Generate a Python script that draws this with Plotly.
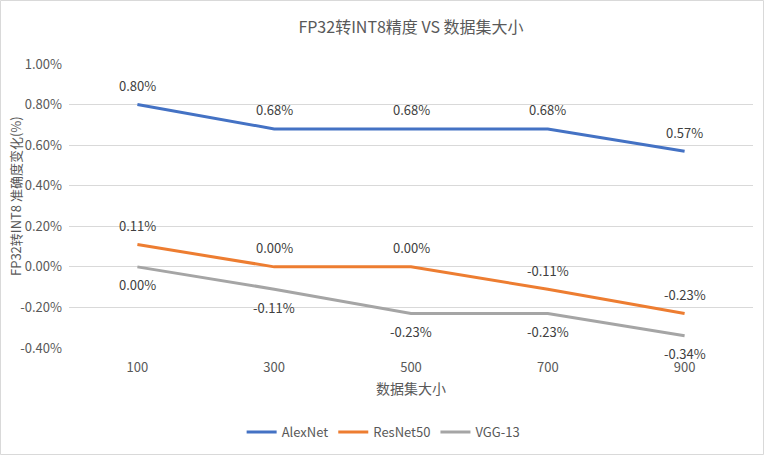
import plotly.graph_objects as go

categories = ["100", "300", "500", "700", "900"]
alexnet = [0.80, 0.68, 0.68, 0.68, 0.57]
resnet50 = [0.11, 0.00, 0.00, -0.11, -0.23]
vgg13 = [0.00, -0.11, -0.23, -0.23, -0.34]
y_ticks = [-0.4, -0.2, 0.0, 0.2, 0.4, 0.6, 0.8, 1.0]

series = [
    ("AlexNet", alexnet, "#4472C4", 19),
    ("ResNet50", resnet50, "#ED7D31", 19),
    ("VGG-13", vgg13, "#A5A5A5", -18),
]

FONT = "Noto Sans CJK SC"

fig = go.Figure()
annotations = []
for name, vals, color, shift in series:
    fig.add_trace(go.Scatter(x=categories, y=vals, mode="lines", name=name,
                             line=dict(color=color, width=3)))
    for i, v in enumerate(vals):
        annotations.append(dict(x=i, y=v, xref="x", yref="y", text=f"{v:.2f}%",
                                showarrow=False, yshift=shift,
                                font=dict(size=13, color="#404040", family=FONT)))

W, H = 764, 455
ml, mr, mt, mb = 69, 11, 64, 107
pw, ph = W - ml - mr, H - mt - mb

annotations.append(dict(x=-(ml - 15) / pw, y=1 - (196 - mt) / ph, xref="paper", yref="paper",
                        text="FP32转INT8 准确度变化(%)", textangle=-90, showarrow=False,
                        xanchor="center", yanchor="middle",
                        font=dict(size=13, color="#595959", family=FONT)))
annotations.append(dict(x=0.5, y=-(388 - mt - ph) / ph, xref="paper", yref="paper",
                        text="数据集大小", showarrow=False, xanchor="center", yanchor="middle",
                        font=dict(size=14, color="#595959", family=FONT)))

fig.update_layout(
    width=W, height=H,
    margin=dict(l=ml, r=mr, t=mt, b=mb, autoexpand=False),
    paper_bgcolor="white", plot_bgcolor="white",
    title=dict(text="FP32转INT8精度 VS 数据集大小", x=0.5, xanchor="center",
               xref="paper", y=1 - 27 / H, yanchor="middle", yref="container",
               font=dict(size=16, color="#595959", family=FONT)),
    xaxis=dict(type="category", showgrid=False, showline=False, zeroline=False,
               ticks="", automargin=False, ticklabelstandoff=10,
               tickfont=dict(size=13, color="#595959", family=FONT),
               range=[-0.5, 4.5]),
    yaxis=dict(range=[-0.4, 1.0], tickvals=y_ticks, automargin=False,
               ticktext=[f"{t:.2f}%" for t in y_ticks],
               showgrid=True, gridcolor="#D9D9D9", gridwidth=1, zeroline=False,
               showline=False, ticks="", ticklabelstandoff=6,
               tickfont=dict(size=13, color="#595959", family=FONT)),
    legend=dict(orientation="h", x=0.46, xanchor="center", y=-(432 - mt - ph) / ph,
                yanchor="middle", font=dict(size=13, color="#595959", family=FONT),
                itemwidth=30, tracegroupgap=0),
    annotations=annotations,
    shapes=[dict(type="rect", xref="paper", yref="paper",
                 x0=-(ml - 0.5) / pw, x1=1 + (mr - 0.5) / pw,
                 y0=-(mb - 0.5) / ph, y1=1 + (mt - 0.5) / ph,
                 line=dict(color="#D9D9D9", width=1), layer="below")],
)

fig.write_html("out.html", config={"displayModeBar": False},
               post_script="document.body.style.margin='0';document.body.style.overflow='hidden';")
